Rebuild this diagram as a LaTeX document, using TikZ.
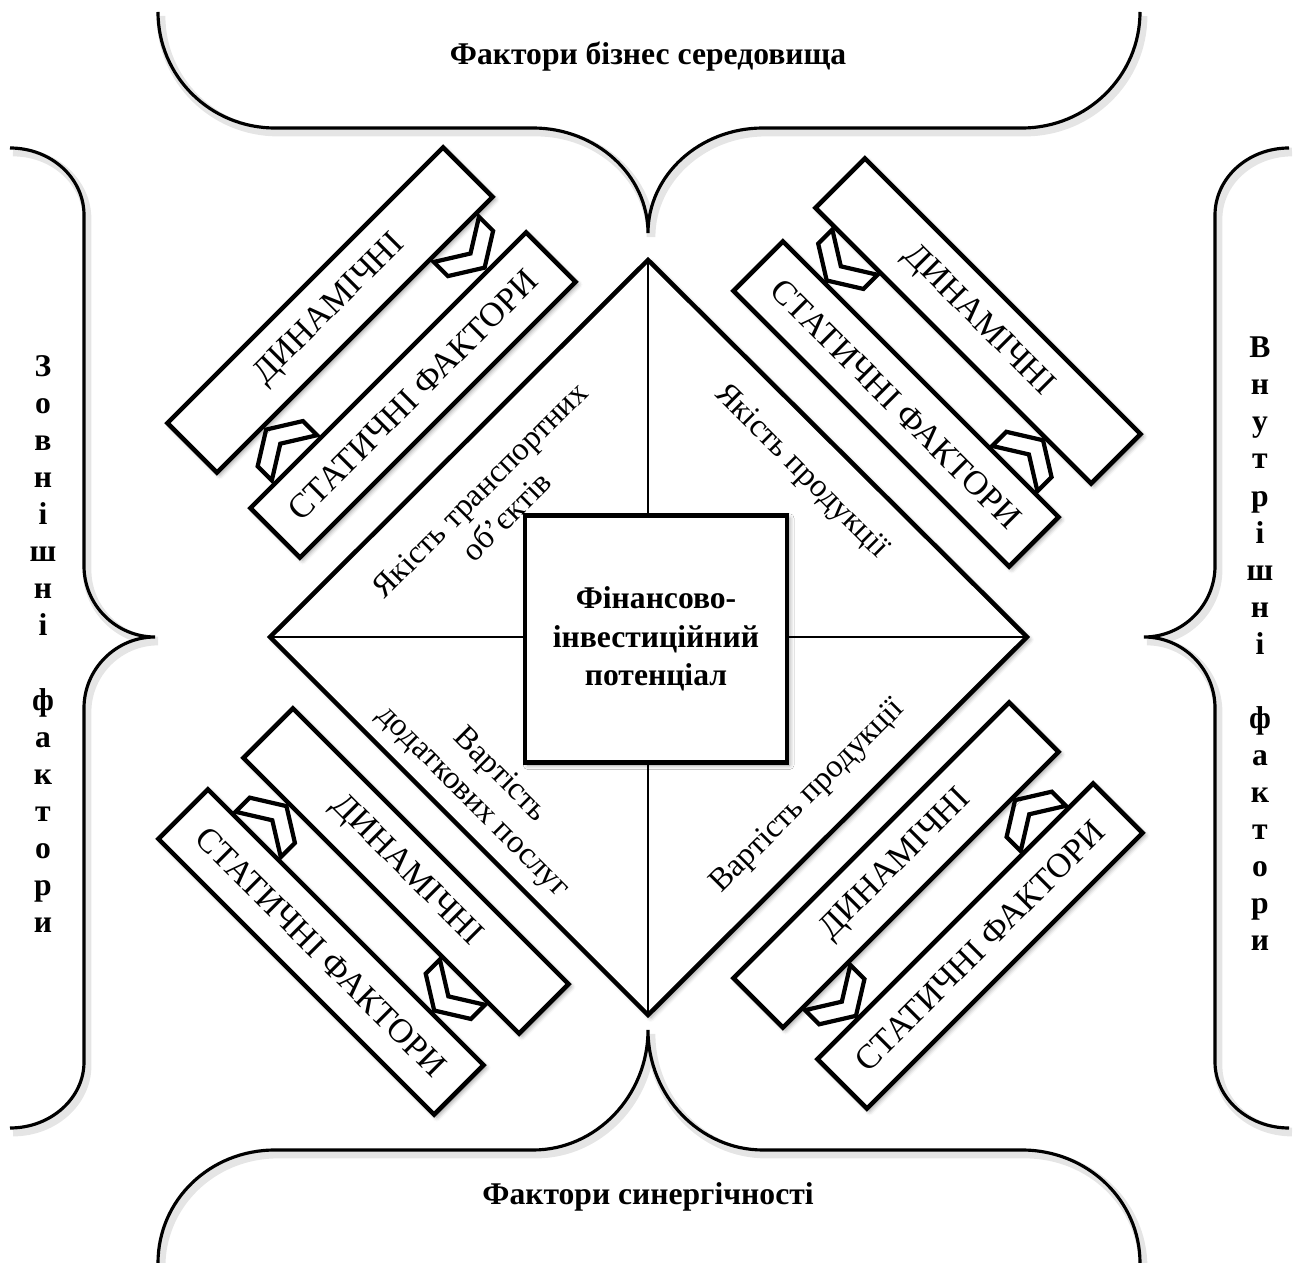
\documentclass[tikz,border=0pt]{standalone}
\usepackage{fontspec}
\setmainfont{Liberation Serif}
\usetikzlibrary{shadows.blur}

\tikzset{
  softshadow/.style={blur shadow={shadow xshift=1.5pt, shadow yshift=-1.5pt,
      shadow blur radius=2.5pt, shadow opacity=40}},
  barbox/.style={draw, line width=2.6pt, fill=white, softshadow,
      minimum width=7.8cm, minimum height=1.4cm, inner sep=0pt,
      font=\fontsize{19.5}{23}\selectfont},
  chevline/.style={draw, line width=2.4pt, fill=white},
  chev/.pic={\draw[chevline] (-32,-20*#1) -- (-32,0) -- (0,20*#1) -- (32,0)
      -- (32,-20*#1) -- (0,0) -- cycle;},
  braceline/.style={draw, line width=1.8pt},
  braceshadow/.style={draw=black!10, line width=5pt, shift={(3,4)}},
  quadtext/.style={align=center, font=\fontsize{18.5}{21.5}\selectfont},
  sideword/.style={align=center, font=\bfseries\fontsize{18}{21.1}\selectfont},
  titletext/.style={font=\bfseries\fontsize{18}{21.6}\selectfont}
}

\begin{document}
\begin{tikzpicture}[x=0.02cm, y=-0.02cm]
  \useasboundingbox (0,0) rectangle (1299,1263);

  % braces round the picture
  \foreach \st in {braceshadow, braceline} {
    \draw[\st] (158,12) .. controls (158,76) and (210,128) .. (275,128) -- (533,128)
      .. controls (596,128) and (648,175) .. (648,233)
      .. controls (648,175) and (700,128) .. (763,128) -- (1022,128)
      .. controls (1087,128) and (1140,76) .. (1140,12);
    \draw[\st] (158,1263) .. controls (158,1200) and (210,1150) .. (275,1150) -- (533,1150)
      .. controls (596,1150) and (648,1096) .. (648,1030)
      .. controls (648,1096) and (700,1150) .. (763,1150) -- (1022,1150)
      .. controls (1087,1150) and (1140,1200) .. (1140,1263);
    \draw[\st] (10,148) .. controls (51,148) and (84,178) .. (84,215) -- (84,566)
      .. controls (84,605) and (116,637) .. (155,637)
      .. controls (116,637) and (84,669) .. (84,708) -- (84,1062)
      .. controls (84,1098) and (51,1128) .. (10,1128);
    \draw[\st] (1289,148) .. controls (1248,148) and (1215,178) .. (1215,215) -- (1215,566)
      .. controls (1215,605) and (1183,637) .. (1144,637)
      .. controls (1183,637) and (1215,669) .. (1215,708) -- (1215,1062)
      .. controls (1215,1098) and (1248,1128) .. (1289,1128);
  }

  \node[titletext] (bizn) at (648,57) {Фактори бізнес середовища};
  \node[titletext] (syn) at (648,1197) {Фактори синергічності};
  \node[sideword] (outw) at (43,644) {З\\о\\в\\н\\і\\ш\\н\\і\\~\\ф\\а\\к\\т\\о\\р\\и};
  \node[sideword] (inw) at (1260,644) {В\\н\\у\\т\\р\\і\\ш\\н\\і\\~\\ф\\а\\к\\т\\о\\р\\и};

  % diamond
  \coordinate (dtop) at (648,260);
  \coordinate (dright) at (1027,637);
  \coordinate (dbot) at (648,1015);
  \coordinate (dleft) at (270,637);
  \draw[line width=2.6pt, fill=white, softshadow] (dtop) -- (dright) -- (dbot) -- (dleft) -- cycle;
  \draw[line width=1pt] (dtop) -- (dbot) (dleft) -- (dright);

  \node[draw, line width=2.5pt, fill=white, softshadow, minimum width=5.24cm,
    minimum height=4.94cm, align=center, font=\bfseries\fontsize{18}{21.8}\selectfont]
    (core) at (656,639) {Фінансово-\\інвестиційний\\потенціал};

  \node[quadtext, rotate=45] (qtl) at (493,503) {Якість транспортних\\об’єктів};
  \node[quadtext, rotate=-45] (qtr) at (801,472) {Якість продукції};
  \node[quadtext, rotate=-45] (qbl) at (486,789) {Вартість\\додаткових послуг};
  \node[quadtext, rotate=45] (qbr) at (808,797) {Вартість продукції};

  % chevrons between the bars
  \begin{scope}[shift={(371.5,352.5)}, x={(0.01414cm,0.01414cm)}, y={(0.01414cm,-0.01414cm)}]
    \pic at (140,0) {chev=1};
    \pic at (-129,0) {chev=-1};
  \end{scope}
  \begin{scope}[shift={(937,362.5)}, x={(0.01414cm,-0.01414cm)}, y={(-0.01414cm,-0.01414cm)}]
    \pic at (-136,0) {chev=1};
    \pic at (130,0) {chev=-1};
  \end{scope}
  \begin{scope}[shift={(363.5,911.5)}, x={(0.01414cm,-0.01414cm)}, y={(-0.01414cm,-0.01414cm)}]
    \pic at (-129,0) {chev=-1};
    \pic at (120,0) {chev=1};
  \end{scope}
  \begin{scope}[shift={(938,905.5)}, x={(0.01414cm,0.01414cm)}, y={(0.01414cm,-0.01414cm)}]
    \pic at (-136,0) {chev=1};
    \pic at (129,0) {chev=-1};
  \end{scope}

  % bars
  \node[barbox, rotate=45] (dynTL) at (330,310) {ДИНАМІЧНІ};
  \node[barbox, rotate=45] (staTL) at (413,395) {СТАТИЧНІ ФАКТОРИ};
  \node[barbox, rotate=-45] (dynTR) at (978,321) {ДИНАМІЧНІ};
  \node[barbox, rotate=-45] (staTR) at (896,404) {СТАТИЧНІ ФАКТОРИ};
  \node[barbox, rotate=-45] (dynBL) at (406,871) {ДИНАМІЧНІ};
  \node[barbox, rotate=-45] (staBL) at (321,952) {СТАТИЧНІ ФАКТОРИ};
  \node[barbox, rotate=45] (dynBR) at (896,865) {ДИНАМІЧНІ};
  \node[barbox, rotate=45] (staBR) at (980,946) {СТАТИЧНІ ФАКТОРИ};
\end{tikzpicture}
\end{document}
